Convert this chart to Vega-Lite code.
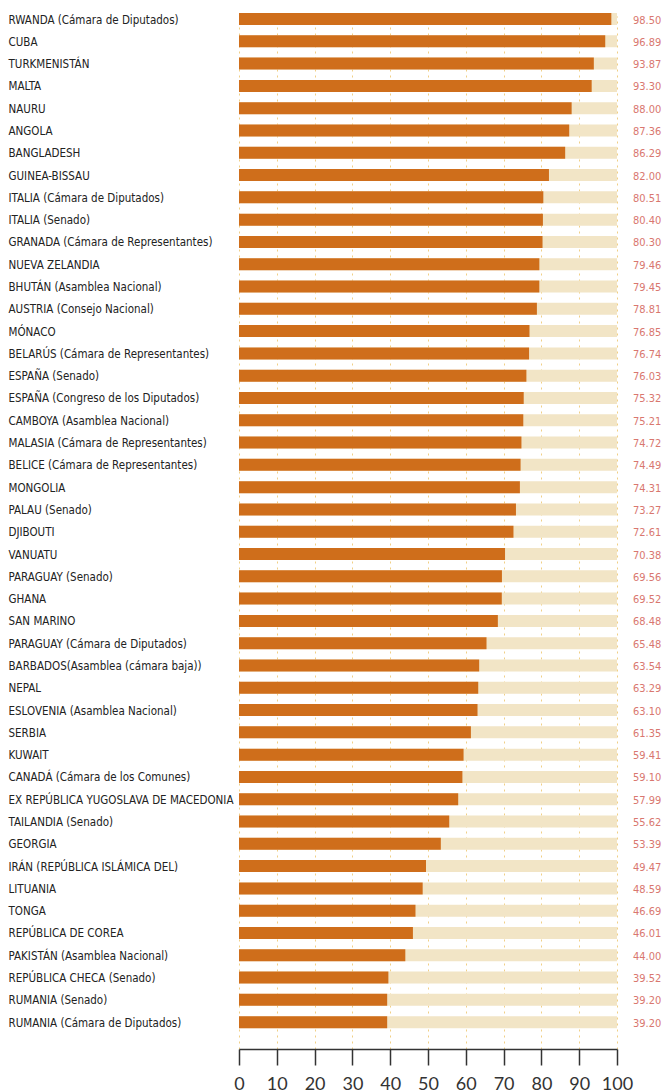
{
  "$schema": "https://vega.github.io/schema/vega-lite/v6.json",
  "autosize": {"type": "none"},
  "padding": {"left": 239, "top": 13, "right": 47, "bottom": 46},
  "width": 378,
  "height": 1033,
  "background": "white",
  "config": {
    "view": {"stroke": null},
    "axisX": {
      "title": null, "tickCount": 10, "values": [0,10,20,30,40,50,60,70,80,90,100],
      "offset": 3,
      "domainColor": "#333333", "domainWidth": 1.5,
      "tickColor": "#333333", "tickWidth": 1.5, "tickSize": 16,
      "labelFont": "Lato, sans-serif", "labelFontSize": 18, "labelColor": "#333333",
      "labelPadding": 10, "labelFlush": false, "labelOverlap": false, "labelBound": false,
      "grid": true, "gridColor": "#f0cf85", "gridDash": [2, 4], "gridWidth": 1
    }
  },
  "data": {"values": [
    {"pais": "RWANDA (Cámara de Diputados)", "v": 98.50},
    {"pais": "CUBA", "v": 96.89},
    {"pais": "TURKMENISTÁN", "v": 93.87},
    {"pais": "MALTA", "v": 93.30},
    {"pais": "NAURU", "v": 88.00},
    {"pais": "ANGOLA", "v": 87.36},
    {"pais": "BANGLADESH", "v": 86.29},
    {"pais": "GUINEA-BISSAU", "v": 82.00},
    {"pais": "ITALIA (Cámara de Diputados)", "v": 80.51},
    {"pais": "ITALIA (Senado)", "v": 80.40},
    {"pais": "GRANADA (Cámara de Representantes)", "v": 80.30},
    {"pais": "NUEVA ZELANDIA", "v": 79.46},
    {"pais": "BHUTÁN (Asamblea Nacional)", "v": 79.45},
    {"pais": "AUSTRIA (Consejo Nacional)", "v": 78.81},
    {"pais": "MÓNACO", "v": 76.85},
    {"pais": "BELARÚS (Cámara de Representantes)", "v": 76.74},
    {"pais": "ESPAÑA (Senado)", "v": 76.03},
    {"pais": "ESPAÑA (Congreso de los Diputados)", "v": 75.32},
    {"pais": "CAMBOYA (Asamblea Nacional)", "v": 75.21},
    {"pais": "MALASIA (Cámara de Representantes)", "v": 74.72},
    {"pais": "BELICE (Cámara de Representantes)", "v": 74.49},
    {"pais": "MONGOLIA", "v": 74.31},
    {"pais": "PALAU (Senado)", "v": 73.27},
    {"pais": "DJIBOUTI", "v": 72.61},
    {"pais": "VANUATU", "v": 70.38},
    {"pais": "PARAGUAY (Senado)", "v": 69.56},
    {"pais": "GHANA", "v": 69.52},
    {"pais": "SAN MARINO", "v": 68.48},
    {"pais": "PARAGUAY (Cámara de Diputados)", "v": 65.48},
    {"pais": "BARBADOS(Asamblea (cámara baja))", "v": 63.54},
    {"pais": "NEPAL", "v": 63.29},
    {"pais": "ESLOVENIA (Asamblea Nacional)", "v": 63.10},
    {"pais": "SERBIA", "v": 61.35},
    {"pais": "KUWAIT", "v": 59.41},
    {"pais": "CANADÁ (Cámara de los Comunes)", "v": 59.10},
    {"pais": "EX REPÚBLICA YUGOSLAVA DE MACEDONIA", "v": 57.99},
    {"pais": "TAILANDIA (Senado)", "v": 55.62},
    {"pais": "GEORGIA", "v": 53.39},
    {"pais": "IRÁN (REPÚBLICA ISLÁMICA DEL)", "v": 49.47},
    {"pais": "LITUANIA", "v": 48.59},
    {"pais": "TONGA", "v": 46.69},
    {"pais": "REPÚBLICA DE COREA", "v": 46.01},
    {"pais": "PAKISTÁN (Asamblea Nacional)", "v": 44.00},
    {"pais": "REPÚBLICA CHECA (Senado)", "v": 39.52},
    {"pais": "RUMANIA (Senado)", "v": 39.20},
    {"pais": "RUMANIA (Cámara de Diputados)", "v": 39.20}
  ]},
  "encoding": {
    "y": {
      "field": "pais", "type": "nominal", "sort": null,
      "scale": {"paddingInner": 0.4617, "paddingOuter": 0.4, "align": 0},
      "axis": {
        "title": null, "domain": false, "ticks": false, "tickSize": 0,
        "labelAlign": "left", "labelPadding": 231, "labelLimit": 232,
        "labelOffset": 1.5,
        "labelFont": "DejaVu Sans Condensed, sans-serif",
        "labelFontSize": 11.5, "labelColor": "#222222"
      }
    }
  },
  "layer": [
    {
      "mark": {"type": "bar", "color": "#f2e5c6"},
      "encoding": {
        "x": {
          "datum": 100, "type": "quantitative", "title": null,
          "scale": {"domain": [0, 100], "nice": false}
        }
      }
    },
    {
      "mark": {"type": "bar", "color": "#cf6e1b"},
      "encoding": {"x": {"field": "v", "type": "quantitative", "title": null}}
    },
    {
      "mark": {"type": "text", "align": "left", "dx": 16, "dy": 1.5, "baseline": "middle",
               "font": "DejaVu Sans Condensed, sans-serif",
               "fontSize": 11, "color": "#d9776f"},
      "encoding": {
        "x": {"datum": 100, "type": "quantitative", "title": null},
        "text": {"field": "v", "type": "quantitative", "format": ".2f"}
      }
    }
  ]
}
